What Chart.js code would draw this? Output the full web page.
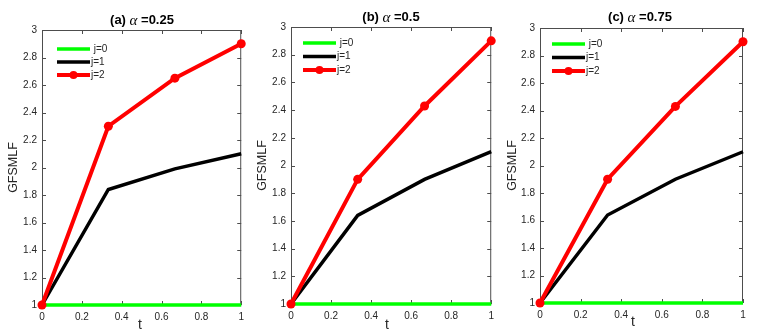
<!DOCTYPE html>
<html>
<head>
<meta charset="utf-8">
<script src="https://cdn.jsdelivr.net/npm/chart.js@4"></script>
<style>
  body { margin: 0; background: #fff; width: 759px; height: 334px; overflow: hidden; position: relative; }
  canvas { position: absolute; top: 0; }
</style>
</head>
<body>
<canvas id="panelA" width="250" height="334" style="left:0px"></canvas>
<canvas id="panelB" width="250" height="334" style="left:250px"></canvas>
<canvas id="panelC" width="259" height="334" style="left:500px"></canvas>
<script>
// values
const tValues = [0, 0.333, 0.667, 1];
const j0A = [1, 1, 1, 1];
const j1A = [1, 1.84, 1.99, 2.1];
const j2A = [1, 2.3, 2.65, 2.9];
const j0B = [1, 1, 1, 1];
const j1B = [1, 1.64, 1.9, 2.1];
const j2B = [1, 1.9, 2.43, 2.9];
const j0C = [1, 1, 1, 1];
const j1C = [1, 1.64, 1.9, 2.1];
const j2C = [1, 1.9, 2.43, 2.9];
const legendLabels = [" j=0", "j=1", "j=2"];
const yLabel = "GFSMLF";
const xLabel = "t";

const AXIS_COLOR = "#4d4d4d";
const TEXT_COLOR = "#262626";
const FONT = "'Liberation Sans', Arial, sans-serif";

const panels = [
    { id: "panelA", left: 0, width: 250, plot: [42, 30, 246, 305], tag: "(a) ", alpha: " =0.25",
      titleX: 142, titleY: 20, yLabX: 14, tX: 140, tY: 325, legX: 57, legY: 49, legGap: 13,
      series: [j0A, j1A, j2A] },
    { id: "panelB", left: 250, width: 250, plot: [291, 27, 496, 304], tag: "(b) ", alpha: " =0.5",
      titleX: 391, titleY: 17, yLabX: 263, tX: 387, tY: 325, legX: 303, legY: 43, legGap: 13.5,
      series: [j0B, j1B, j2B] },
    { id: "panelC", left: 500, width: 259, plot: [540, 28, 743, 303], tag: "(c) ", alpha: " =0.75",
      titleX: 640, titleY: 17, yLabX: 513, tX: 633, tY: 322, legX: 552, legY: 44, legGap: 13.5,
      series: [j0C, j1C, j2C] }
];

const seriesStyle = [
    { color: "#00ff00", width: 3.5, marker: false },
    { color: "#000000", width: 3.5, marker: false },
    { color: "#ff0000", width: 4, marker: true }
];

function toPoints(ys) {
    return ys.map((y, i) => ({ x: tValues[i], y: y }));
}

function fmt(v) {
    return String(Number(v.toFixed(2)));
}

// MATLAB style box with inward ticks, then title, axis labels and legend
const decorPlugin = {
    id: "decor",
    beforeDatasetsDraw(chart) {
        const ctx = chart.ctx;
        const a = chart.chartArea;
        const xs = chart.scales.x, ys = chart.scales.y;
        ctx.save();
        ctx.strokeStyle = AXIS_COLOR;
        ctx.lineWidth = 1;
        ctx.strokeRect(a.left + 0.5, a.top + 0.5, a.right - a.left - 1, a.bottom - a.top - 1);
        const tl = 4;
        ctx.beginPath();
        xs.ticks.forEach(t => {
            const x = Math.round(xs.getPixelForValue(t.value)) + 0.5;
            ctx.moveTo(x, a.bottom); ctx.lineTo(x, a.bottom - tl);
            ctx.moveTo(x, a.top); ctx.lineTo(x, a.top + tl);
        });
        ys.ticks.forEach(t => {
            const y = Math.round(ys.getPixelForValue(t.value)) + 0.5;
            ctx.moveTo(a.left, y); ctx.lineTo(a.left + tl, y);
            ctx.moveTo(a.right, y); ctx.lineTo(a.right - tl, y);
        });
        ctx.stroke();
        ctx.restore();
    },
    afterDraw(chart) {
        const p = chart.options.plugins.decor;
        const ctx = chart.ctx;
        const a = chart.chartArea;
        const off = p.left;

        ctx.save();
        // title with italic alpha
        ctx.fillStyle = "#000";
        ctx.textBaseline = "middle";
        ctx.textAlign = "left";
        const boldFont = "bold 13px " + FONT;
        const greekFont = "italic 15px 'Liberation Serif', 'DejaVu Serif', serif";
        ctx.font = boldFont;
        const w1 = ctx.measureText(p.tag).width;
        const w3 = ctx.measureText(p.alpha).width;
        ctx.font = greekFont;
        const w2 = ctx.measureText("\u03b1").width;
        let x0 = p.titleX - off - (w1 + w2 + w3) / 2;
        ctx.font = boldFont;
        ctx.fillText(p.tag, x0, p.titleY);
        ctx.font = greekFont;
        ctx.fillText("\u03b1", x0 + w1, p.titleY + 1);
        ctx.font = boldFont;
        ctx.fillText(p.alpha, x0 + w1 + w2, p.titleY);

        // axis labels
        ctx.fillStyle = TEXT_COLOR;
        ctx.textAlign = "center";
        ctx.font = "14px " + FONT;
        ctx.fillText(xLabel, p.tX - off, p.tY);
        ctx.save();
        ctx.translate(p.yLabX - off, (a.top + a.bottom) / 2);
        ctx.rotate(-Math.PI / 2);
        ctx.font = "12.5px " + FONT;
        ctx.fillText(yLabel, 0, 0);
        ctx.restore();

        // legend
        ctx.font = "10px " + FONT;
        ctx.textAlign = "left";
        seriesStyle.forEach((s, i) => {
            const y = p.legY + i * p.legGap;
            const lx = p.legX - off;
            ctx.strokeStyle = s.color;
            ctx.lineWidth = s.width;
            ctx.beginPath();
            ctx.moveTo(lx, y); ctx.lineTo(lx + 33, y);
            ctx.stroke();
            if (s.marker) {
                ctx.fillStyle = s.color;
                ctx.beginPath();
                ctx.arc(lx + 16.5, y, 4, 0, Math.PI * 2);
                ctx.fill();
            }
            ctx.fillStyle = TEXT_COLOR;
            ctx.fillText(legendLabels[i], lx + 34, y);
        });
        ctx.restore();
    }
};

panels.forEach(p => {
    const [pl, pt, pr, pb] = p.plot;
    const datasets = p.series.map((ys, i) => ({
        label: legendLabels[i],
        data: toPoints(ys),
        borderColor: seriesStyle[i].color,
        backgroundColor: seriesStyle[i].color,
        borderWidth: seriesStyle[i].width,
        pointRadius: seriesStyle[i].marker ? 4.5 : 0,
        pointBorderWidth: 0,
        tension: 0,
        clip: false,
        order: 2 - i
    }));
    new Chart(document.getElementById(p.id), {
        type: "line",
        data: { datasets },
        plugins: [decorPlugin],
        options: {
            responsive: false,
            animation: false,
            layout: { padding: { top: pt, right: p.left + p.width - pr, bottom: 0, left: 0 } },
            plugins: {
                legend: { display: false },
                tooltip: { enabled: false },
                decor: p
            },
            scales: {
                x: {
                    type: "linear", min: 0, max: 1,
                    grid: { display: false, drawTicks: false }, border: { display: false },
                    ticks: { stepSize: 0.2, padding: 6, color: TEXT_COLOR, font: { family: FONT, size: 10 },
                             maxRotation: 0, callback: fmt },
                    afterFit: s => { s.height = 334 - pb; }
                },
                y: {
                    min: 1, max: 3,
                    grid: { display: false, drawTicks: false }, border: { display: false },
                    ticks: { stepSize: 0.2, padding: 5, color: TEXT_COLOR, font: { family: FONT, size: 10 },
                             callback: fmt },
                    afterFit: s => { s.width = pl - p.left; }
                }
            }
        }
    });
});
</script>
</body>
</html>
